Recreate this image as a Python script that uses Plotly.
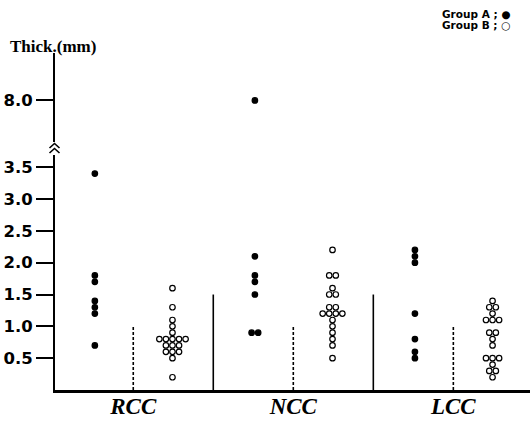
import plotly.graph_objects as go

categories = ["RCC", "NCC", "LCC"]
group_a = {
    "RCC": [3.4, 1.8, 1.7, 1.4, 1.3, 1.2, 0.7],
    "NCC": [8.0, 2.1, 1.8, 1.7, 1.5, 0.9, 0.9],
    "LCC": [2.2, 2.1, 2.0, 1.2, 0.8, 0.6, 0.5],
}
group_b = {
    "RCC": [1.6, 1.3, 1.1, 1.0, 0.9, 0.8, 0.8, 0.8, 0.8, 0.8,
            0.7, 0.7, 0.7, 0.6, 0.6, 0.6, 0.5, 0.2],
    "NCC": [2.2, 1.8, 1.8, 1.6, 1.5, 1.5, 1.3, 1.3, 1.2, 1.2,
            1.2, 1.2, 1.1, 1.0, 0.9, 0.8, 0.7, 0.5],
    "LCC": [1.4, 1.3, 1.3, 1.2, 1.1, 1.1, 1.1, 0.9, 0.9, 0.8,
            0.7, 0.5, 0.5, 0.5, 0.4, 0.3, 0.3, 0.2],
}
lower_ticks = [0.5, 1.0, 1.5, 2.0, 2.5, 3.0, 3.5]
upper_ticks = [8.0]
break_value = 4.0

A_OFF, B_OFF, SPREAD = -0.24, 0.245, 0.041


def swarm(values, center):
    xs, ys = [], []
    counts = {}
    for v in values:
        counts[v] = counts.get(v, 0) + 1
    for v, n in counts.items():
        for k in range(n):
            xs.append(center + (k - (n - 1) / 2) * SPREAD)
            ys.append(v)
    return xs, ys


fig = go.Figure()
for gname, data, off, fill in [("Group A", group_a, A_OFF, "black"),
                                ("Group B", group_b, B_OFF, "white")]:
    for i, cat in enumerate(categories):
        xs, ys = swarm(data[cat], i + off)
        lo = [(x, y) for x, y in zip(xs, ys) if y < break_value]
        hi = [(x, y) for x, y in zip(xs, ys) if y >= break_value]
        for pts, ax in [(lo, "y"), (hi, "y2")]:
            if not pts:
                continue
            fig.add_trace(go.Scatter(
                x=[p[0] for p in pts], y=[p[1] for p in pts], yaxis=ax,
                mode="markers", name=gname, showlegend=False,
                marker=dict(symbol="circle", size=5.5, color=fill,
                            line=dict(color="black", width=1.2)),
            ))

# dashed separators between groups and solid dividers between categories
for i in range(len(categories)):
    fig.add_shape(type="line", xref="x", yref="y", x0=i, x1=i, y0=0, y1=1.0,
                  line=dict(color="black", width=1.6, dash="3px,2px"))
for i in range(len(categories) - 1):
    fig.add_shape(type="line", xref="x", yref="y", x0=i + 0.5, x1=i + 0.5,
                  y0=0, y1=1.5, line=dict(color="black", width=1.6))

# axis break marker (two chevrons)
W, H, L, B = 475, 337, 55, 32


def px(xp, yp):
    return (xp - L) / W, (422 - B - yp) / H


path = ""
for top in (143.5, 148.5):
    a = px(49.5, top + 4.5)
    b = px(54.5, top)
    c = px(59.5, top + 4.5)
    path += f"M{a[0]},{a[1]} L{b[0]},{b[1]} L{c[0]},{c[1]} "
fig.add_shape(type="path", xref="paper", yref="paper", path=path,
              line=dict(color="black", width=1.6))

tickfont = dict(family="DejaVu Sans", size=16.5, color="black", weight="bold")
fig.update_layout(
    width=530, height=422,
    margin=dict(l=L, r=0, t=53, b=B, autoexpand=False),
    paper_bgcolor="white", plot_bgcolor="white",
    xaxis=dict(range=[-0.489, 2.479], tickvals=list(range(len(categories))),
               ticktext=categories, ticks="", ticklen=0, automargin=False,
               ticklabelstandoff=-6,
               showgrid=False, zeroline=False,
               showline=True, linecolor="black", linewidth=2.5,
               tickfont=dict(family="Liberation Serif", size=23, color="black",
                             weight="bold", style="italic")),
    yaxis=dict(domain=[0, 0.697], range=[0, 3.69], tickvals=lower_ticks,
               ticktext=[f"{v:.1f}" for v in lower_ticks], automargin=False,
               ticks="outside", ticklen=17, tickwidth=2, tickcolor="black",
               showgrid=False, zeroline=False, showline=True,
               linecolor="black", linewidth=2, tickfont=tickfont),
    yaxis2=dict(domain=[0.736, 1], range=[7.3, 8.8], tickvals=upper_ticks,
                ticktext=[f"{v:.1f}" for v in upper_ticks], anchor="x",
                automargin=False,
                ticks="outside", ticklen=17, tickwidth=2, tickcolor="black",
                showgrid=False, zeroline=False, showline=True,
                linecolor="black", linewidth=2, tickfont=tickfont),
)

fig.add_annotation(text="Thick.(mm)", xref="paper", yref="paper",
                   x=(8 - L) / W, y=px(0, 46)[1], xanchor="left", yanchor="middle",
                   showarrow=False,
                   font=dict(family="Liberation Serif", size=17, color="black",
                             weight="bold"))
for j, (lab, sym) in enumerate([("Group A", "●"), ("Group B", "○")]):
    fig.add_annotation(text=f"{lab} ; {sym}", xref="paper", yref="paper",
                       x=(512 - L) / W, y=px(0, 14 + 11 * j)[1],
                       xanchor="right", yanchor="middle", showarrow=False,
                       font=dict(family="DejaVu Sans", size=10.5,
                                 color="black", weight="bold"))

fig.write_html("out.html", config={"displayModeBar": False},
               post_script="document.body.style.margin='0';"
                           "document.body.style.overflow='hidden';")
